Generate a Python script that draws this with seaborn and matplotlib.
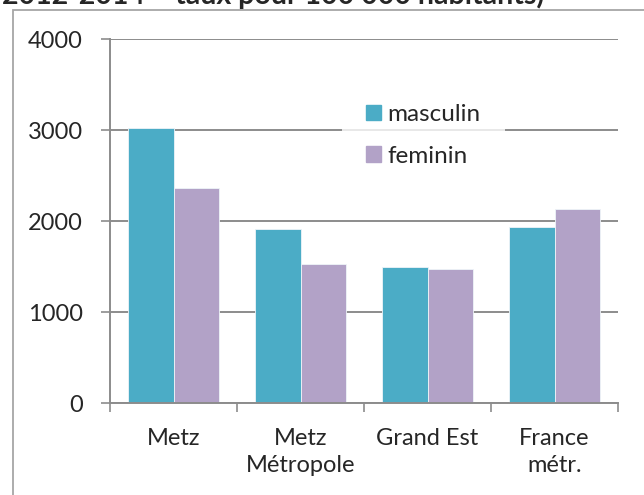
import matplotlib
matplotlib.use("Agg")
import matplotlib.pyplot as plt
import matplotlib.patches as mpatches
import pandas as pd
import seaborn as sns

# Data
categories = ["Metz", "Metz\nMétropole", "Grand Est", "France\nmétr."]
masculin = [3030, 1915, 1498, 1937]
feminin = [2362, 1531, 1472, 2138]
series_names = ["masculin", "feminin"]
colors = ["#4BACC6", "#B2A2C7"]
title = "2012-2014 – taux pour 100 000 habitants)"

df = pd.DataFrame({
    "categorie": categories * 2,
    "sexe": [series_names[0]] * 4 + [series_names[1]] * 4,
    "taux": masculin + feminin,
})

sns.set_style("white")
plt.rcParams["font.family"] = ["Lato", "DejaVu Sans"]

grey = "#8C8C8C"
fs = 17
fig = plt.figure(figsize=(6.44, 4.95), dpi=100)
ax = fig.add_axes([110 / 644, 1 - 403.3 / 495, 508 / 644, 364 / 495])

sns.barplot(data=df, x="categorie", y="taux", hue="sexe", palette=colors,
            width=0.72, saturation=1, edgecolor="#EEF4F8", linewidth=0.6,
            ax=ax, zorder=2)

ax.set_ylim(0, 4000)
ax.set_xlim(-0.5, 3.5)
ax.set_yticks([0, 1000, 2000, 3000, 4000])
ax.set_xlabel("")
ax.set_ylabel("")
ax.yaxis.grid(True, color=grey, linewidth=1.4)
ax.set_axisbelow(True)

for s in ["top", "right"]:
    ax.spines[s].set_visible(False)
for s in ["left", "bottom"]:
    ax.spines[s].set_color(grey)
    ax.spines[s].set_linewidth(1.4)

# y ticks outward, x ticks at category boundaries
ax.tick_params(axis="y", direction="out", length=6.5, width=1.2, color=grey,
               labelsize=fs, pad=13, left=True)
ax.set_xticks([0, 1, 2, 3])
ax.set_xticklabels(categories, fontsize=fs, linespacing=1.35)
ax.tick_params(axis="x", length=0, pad=18)
ax.set_xticks([-0.5, 0.5, 1.5, 2.5, 3.5], minor=True)
ax.tick_params(axis="x", which="minor", direction="out", length=6.5,
               width=1.2, color=grey, bottom=True)

handles = [mpatches.Patch(color=c, label=n) for c, n in zip(colors, series_names)]
leg = ax.legend(handles=handles, loc="center left",
                bbox_to_anchor=((342 - 110) / 508, (403.3 - 135.5) / 364),
                frameon=True, fontsize=17.5, handlelength=0.62, handleheight=0.62,
                handletextpad=0.28, labelspacing=0.85, borderpad=0.98,
                borderaxespad=0)
leg.get_frame().set_facecolor("white")
leg.get_frame().set_edgecolor("white")
leg.get_frame().set_linewidth(0)
leg.get_frame().set_boxstyle("square", pad=0)
leg.set_zorder(5)

# outer frame of the embedded chart, cut at the right and bottom
fig.add_artist(mpatches.Rectangle((13 / 644, -0.1), 1.2, 1.1 - 9.5 / 495,
                                  transform=fig.transFigure, fill=False,
                                  edgecolor="#A6A6A6", linewidth=1.3,
                                  clip_on=False))

# title, cut off at the top of the image as in the reference
fig.text(2 / 644, 1 - 3.8 / 495, title, fontsize=20.5, fontweight="bold",
         ha="left", va="baseline")

fig.savefig("out.png", dpi=100)
